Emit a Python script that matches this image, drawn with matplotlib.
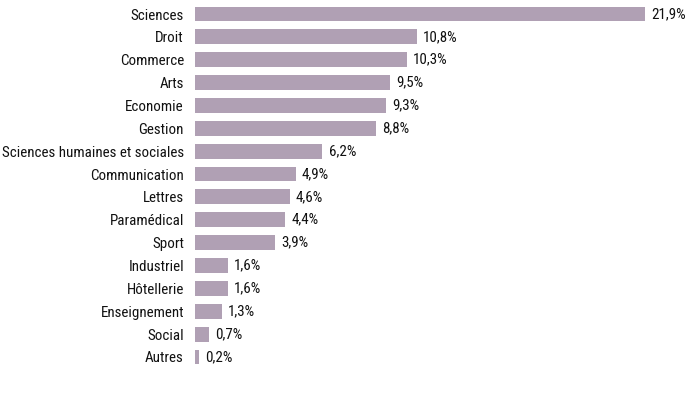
import matplotlib.pyplot as plt
from matplotlib import font_manager

categories = ['Sciences', 'Droit', 'Commerce', 'Arts', 'Economie', 'Gestion',
              'Sciences humaines et sociales', 'Communication', 'Lettres',
              'Paramédical', 'Sport', 'Industriel', 'Hôtellerie',
              'Enseignement', 'Social', 'Autres']
values = [21.9, 10.8, 10.3, 9.5, 9.3, 8.8, 6.2, 4.9, 4.6, 4.4, 3.9,
          1.6, 1.6, 1.3, 0.7, 0.2]

# a narrow face if one is installed
names = {f.name for f in font_manager.fontManager.ttflist}
prefs = ['Liberation Sans Narrow', 'Roboto Condensed', 'Open Sans Condensed',
         'Noto Sans Condensed', 'DejaVu Sans Condensed']
font = next((n for n in prefs if n in names), None)
if font is None:
    narrow = sorted(n for n in names if 'Narrow' in n or 'Condensed' in n)
    font = narrow[0] if narrow else 'Liberation Sans'
plt.rcParams['font.family'] = [font, 'DejaVu Sans']

fig = plt.figure(figsize=(6.91, 3.96), dpi=100)
ax = fig.add_axes([0.2822, 0.0697, 0.7178, 0.9238])

# size the text so the longest label is about 181 px wide, as in the source
probe = fig.text(0, 0, 'Sciences humaines et sociales', fontsize=10)
w = probe.get_window_extent(fig.canvas.get_renderer()).width
probe.remove()
size = min(11.5, 10 * 181 / w)

y = range(len(categories))
bars = ax.barh(y, values, height=0.65, color='#b0a0b4')
ax.set_ylim(len(categories) - 0.5, -0.5)
ax.set_xlim(0, 24.14)

ax.set_yticks(list(y))
ax.set_yticklabels(categories, fontsize=size, color='#111111')
ax.tick_params(axis='y', length=0, pad=8)
ax.set_xticks([])
for s in ax.spines.values():
    s.set_visible(False)

for b, v in zip(bars, values):
    ax.text(b.get_width() + 0.3, b.get_y() + b.get_height() / 2,
            f'{v:.1f}%'.replace('.', ','), va='center', ha='left',
            fontsize=size, color='#111111')

fig.savefig('out.png', dpi=100)
